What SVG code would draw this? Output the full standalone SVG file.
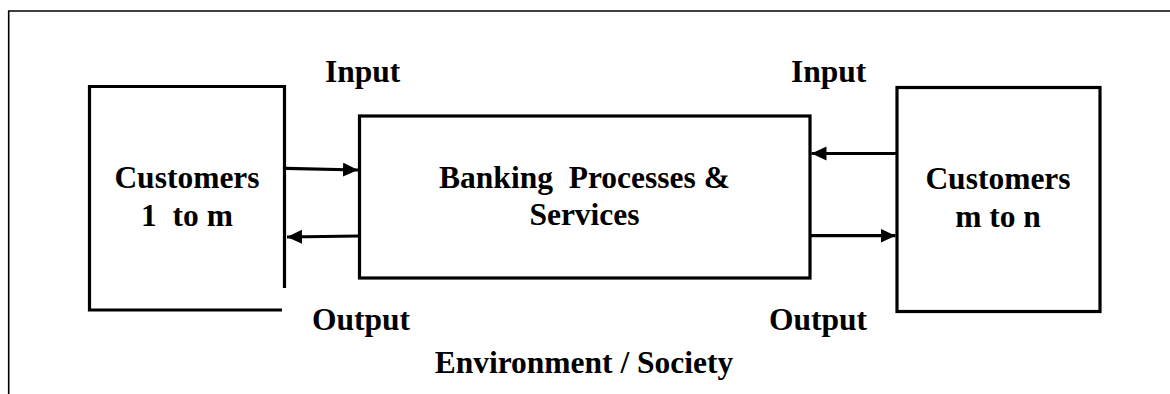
<svg xmlns="http://www.w3.org/2000/svg" width="1170" height="394" viewBox="0 0 1170 394">
  <style>
    .box { fill: #fff; stroke: #000; stroke-width: 3.2; }
    .frame { fill: none; stroke: #000; stroke-width: 1.6; }
    .edge { fill: none; stroke: #000; stroke-width: 3.2; }
    .t { font-weight: bold; font-size: 31.5px; fill: #000; }
    .c { text-anchor: middle; }
  </style>
  <defs>
    <marker id="arrow" markerUnits="userSpaceOnUse" markerWidth="16" markerHeight="15" refX="15" refY="7" orient="auto" viewBox="0 0 16 15">
      <path d="M0,0 L15,7 L0,14 z" fill="#000"/>
    </marker>
  </defs>
  <rect width="1170" height="394" fill="#fff"/>
  <g font-family="'Liberation Serif', 'DejaVu Serif', serif">
  <g id="frame">
    <path class="frame" d="M8.7,394 V11 H1170"/>
    <text x="584" y="373" class="t c">Environment / Society</text>
  </g>
  <g id="customers-1-to-m">
    <path class="edge" d="M282,310 H89.5 V86.5 H284.5 V288"/>
    <text x="187" y="187.5" class="t c">Customers</text>
    <text x="187" y="226" class="t c" xml:space="preserve">1  to m</text>
  </g>
  <g id="banking">
    <rect class="box" x="359.5" y="116" width="450.5" height="162"/>
    <text x="584.5" y="187.5" class="t c" xml:space="preserve">Banking  Processes &amp;</text>
    <text x="584.5" y="225" class="t c">Services</text>
  </g>
  <g id="customers-m-to-n">
    <rect class="box" x="897" y="87.5" width="203" height="224"/>
    <text x="998" y="189" class="t c">Customers</text>
    <text x="998" y="226.5" class="t c">m to n</text>
  </g>
  <g id="labels">
    <text x="325" y="82" class="t">Input</text>
    <text x="791" y="82" class="t">Input</text>
    <text x="312" y="330" class="t">Output</text>
    <text x="769" y="330" class="t">Output</text>
  </g>
  </g>
  <g id="connectors">
    <line class="edge" x1="286" y1="168.3" x2="358" y2="170" marker-end="url(#arrow)"/>
    <line class="edge" x1="359" y1="236" x2="287" y2="237" marker-end="url(#arrow)"/>
    <line class="edge" x1="896" y1="153.5" x2="811.5" y2="153.5" marker-end="url(#arrow)"/>
    <line class="edge" x1="811" y1="235.7" x2="895.5" y2="235.7" marker-end="url(#arrow)"/>
  </g>
</svg>
